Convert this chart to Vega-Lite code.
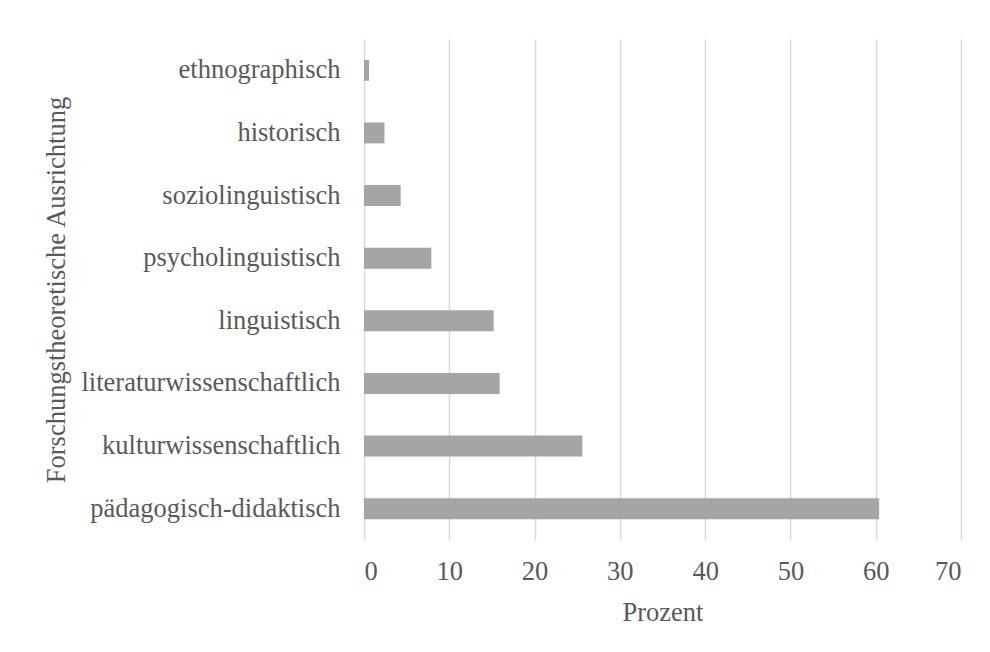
{
  "$schema": "https://vega.github.io/schema/vega-lite/v6.json",
  "autosize": {"type": "none"},
  "padding": {"left": 364, "top": 39, "right": 29, "bottom": 112},
  "width": 597,
  "height": 501,
  "background": "white",
  "data": {
    "values": [
      {"Ausrichtung": "ethnographisch", "Prozent": 0.6},
      {"Ausrichtung": "historisch", "Prozent": 2.4},
      {"Ausrichtung": "soziolinguistisch", "Prozent": 4.3},
      {"Ausrichtung": "psycholinguistisch", "Prozent": 7.9},
      {"Ausrichtung": "linguistisch", "Prozent": 15.2},
      {"Ausrichtung": "literaturwissenschaftlich", "Prozent": 15.9},
      {"Ausrichtung": "kulturwissenschaftlich", "Prozent": 25.6},
      {"Ausrichtung": "pädagogisch-didaktisch", "Prozent": 60.4}
    ]
  },
  "mark": {"type": "bar", "color": "#A5A5A5"},
  "encoding": {
    "y": {
      "field": "Ausrichtung",
      "type": "nominal",
      "sort": "x",
      "scale": {"paddingInner": 0.665, "paddingOuter": 0.3325},
      "axis": {
        "title": "Forschungstheoretische Ausrichtung",
        "titleFont": "Liberation Serif",
        "titleFontSize": 26.5,
        "titleFontWeight": "normal",
        "titleColor": "#595959",
        "titleAngle": 270,
        "titleBaseline": "alphabetic",
        "titleAlign": "center",
        "titleX": -300,
        "titleY": 250.5,
        "labelFont": "Liberation Serif",
        "labelFontSize": 26.5,
        "labelColor": "#595959",
        "labelPadding": 24,
        "labelLimit": 400,
        "ticks": false,
        "domain": false,
        "grid": false
      }
    },
    "x": {
      "field": "Prozent",
      "type": "quantitative",
      "scale": {"domain": [0, 70], "nice": false},
      "axis": {
        "title": "Prozent",
        "values": [0, 10, 20, 30, 40, 50, 60, 70],
        "titleFont": "Liberation Serif",
        "titleFontSize": 26.5,
        "titleFontWeight": "normal",
        "titleColor": "#595959",
        "titlePadding": 15,
        "labelFont": "Liberation Serif",
        "labelFontSize": 26.5,
        "labelColor": "#595959",
        "labelPadding": 18,
        "ticks": false,
        "domain": false,
        "grid": true,
        "gridColor": "#D9D9D9",
        "gridWidth": 1.5
      }
    }
  },
  "config": {"view": {"stroke": null}}
}
